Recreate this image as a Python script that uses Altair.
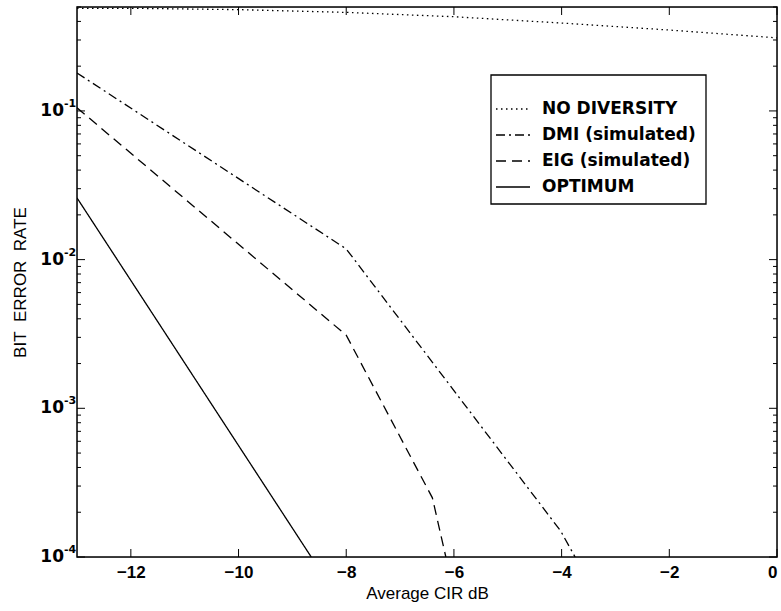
import altair as alt
import pandas as pd

# ---- data ----
x_nodiv = [-13, -12, -10, -8, -6, -4, -2, 0]
ber_nodiv = [0.49, 0.49, 0.48, 0.46, 0.43, 0.39, 0.35, 0.31]
x_dmi = [-13, -8, -4.02, -3.75]
ber_dmi = [0.18, 0.0118, 0.00015, 0.0001]
x_eig = [-13, -8, -6.4, -6.15]
ber_eig = [0.105, 0.0031, 0.00025, 0.0001]
x_opt = [-13, -8.65]
ber_opt = [0.026, 0.0001]

series = ["NO DIVERSITY", "DMI (simulated)", "EIG (simulated)", "OPTIMUM"]
dashes = [[1.5, 3.5], [9, 4, 2, 4], [10, 6], [1, 0]]

x_ticks = [-12, -10, -8, -6, -4, -2, 0]
y_major = [1e-4, 1e-3, 1e-2, 1e-1]
y_exp = ["-4", "-3", "-2", "-1"]
y_minor = [m * d for d in [1e-4, 1e-3, 1e-2, 1e-1] for m in [2, 3, 4, 5, 6, 7, 8, 9] if m * d <= 0.5]

rows = []
for name, xs_, ys_ in zip(series, [x_nodiv, x_dmi, x_eig, x_opt], [ber_nodiv, ber_dmi, ber_eig, ber_opt]):
    for i, (a, b) in enumerate(zip(xs_, ys_)):
        rows.append(dict(series=name, cir=a, ber=b, order=i))
df = pd.DataFrame(rows)

W, H = 700, 550
FONT = "DejaVu Sans"
xs = alt.Scale(domain=[-13, 0], nice=False, zero=False)
ys = alt.Scale(type="log", domain=[1e-4, 0.5], nice=False)

X_AX = alt.Axis(values=x_ticks, ticks=False, domain=False, grid=False,
                labelFontSize=17, labelFontWeight="bold", labelPadding=7, title="Average CIR dB",
                titleFontSize=17, titlePadding=5, titleFontWeight="normal")
Y_AX = alt.Axis(labels=False, ticks=False, domain=False, grid=False,
                title="BIT\u00a0\u00a0ERROR\u00a0\u00a0RATE", titleFontSize=17,
                titlePadding=48, titleFontWeight="normal")

lines = alt.Chart(df).mark_line(color="black", strokeWidth=1.3, clip=True).encode(
    x=alt.X("cir:Q", scale=xs, axis=X_AX),
    y=alt.Y("ber:Q", scale=ys, axis=Y_AX),
    strokeDash=alt.StrokeDash("series:N", scale=alt.Scale(domain=series, range=dashes),
                              legend=alt.Legend(orient="none", legendX=418, legendY=84, title=None,
                                                symbolType="stroke", symbolSize=1156, symbolStrokeWidth=1.3,
                                                symbolStrokeColor="black", labelFontSize=17, labelFont=FONT,
                                                labelFontWeight="bold",
                                                labelColor="black", labelOffset=11, rowPadding=-13, padding=0)),
    order="order:Q",
)

one = pd.DataFrame({"a": [0]})
box = alt.Chart(one).mark_rect(fill="white", stroke="black", strokeWidth=1.3).encode(
    x=alt.value(414), x2=alt.value(629), y=alt.value(68), y2=alt.value(197))
frame = alt.Chart(one).mark_rect(filled=False, stroke="black", strokeWidth=1.5).encode(
    x=alt.value(0), x2=alt.value(W), y=alt.value(0), y2=alt.value(H))

ymaj = pd.DataFrame({"v": y_major, "e": y_exp})
ymin = pd.DataFrame({"v": y_minor})
xt = pd.DataFrame({"v": x_ticks})

def yrule(data, x0, x1):
    return alt.Chart(data).mark_rule(color="black", strokeWidth=1).encode(
        y=alt.Y("v:Q", scale=ys, axis=Y_AX), x=alt.value(x0), x2=alt.value(x1))

def xrule(y0, y1):
    return alt.Chart(xt).mark_rule(color="black", strokeWidth=1).encode(
        x=alt.X("v:Q", scale=xs, axis=X_AX), y=alt.value(y0), y2=alt.value(y1))

ticks = [yrule(ymaj, 0, 8), yrule(ymin, 0, 4), yrule(ymaj, W, W - 8), yrule(ymin, W, W - 4),
         xrule(H, H - 8), xrule(0, 8)]

ten = alt.Chart(ymaj).mark_text(align="right", baseline="middle", fontSize=17, font=FONT,
                                fontWeight="bold", color="black", dx=-13).encode(
    y=alt.Y("v:Q", scale=ys, axis=Y_AX), x=alt.value(0), text=alt.value("10"))
ex = alt.Chart(ymaj).mark_text(align="left", baseline="middle", fontSize=11, font=FONT,
                               fontWeight="bold", color="black", dx=-13, dy=-7).encode(
    y=alt.Y("v:Q", scale=ys, axis=Y_AX), x=alt.value(0), text="e:N")

chart = alt.layer(box, lines, *ticks, ten, ex, frame).properties(
    width=W, height=H,
    autosize=alt.AutoSizeParams(type="none"),
    padding={"left": 77, "top": 7, "right": 4, "bottom": 54},
).configure_view(stroke=None).configure_axis(
    labelFont=FONT, titleFont=FONT, labelColor="black", titleColor="black"
).configure(background="white")

chart.save("out.html", embed_options={"renderer": "svg", "actions": False})
